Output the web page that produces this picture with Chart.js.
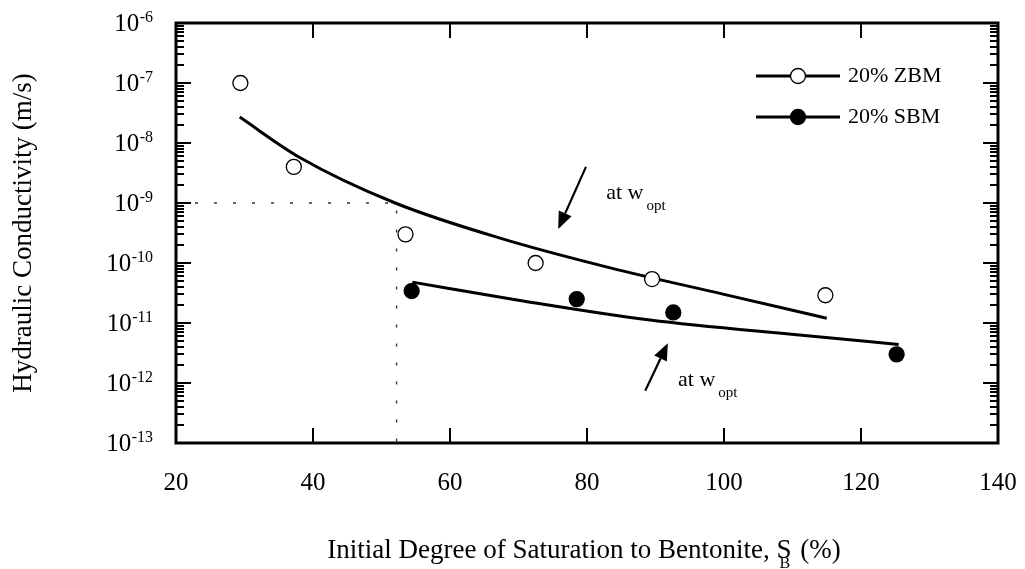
<!DOCTYPE html>
<html><head><meta charset="utf-8">
<script src="https://cdn.jsdelivr.net/npm/chart.js@4/dist/chart.umd.min.js"></script>
<style>html,body{margin:0;padding:0;background:#fff;}canvas{display:block;}</style>
</head><body>
<canvas id="c" width="1025" height="569"></canvas>
<script>
// Measured hydraulic conductivity (m/s) against initial degree of saturation to bentonite (%)
const zbmS = [29.4, 37.2, 53.5, 72.5, 89.5, 114.8];
const zbmK = [1.0e-7, 4.0e-9, 3.0e-10, 1.0e-10, 5.4e-11, 2.9e-11];
const sbmS = [54.4, 78.5, 92.6, 125.2];
const sbmK = [3.4e-11, 2.5e-11, 1.5e-11, 3.0e-12];

// Trend curves through each series
const zbmFitS = [29.3, 38, 52, 67.3, 83.4, 100, 115];
const zbmFitK = [2.7e-8, 5.8e-9, 1.0e-9, 2.6e-10, 8.3e-11, 3.0e-11, 1.2e-11];
const sbmFitS = [54.5, 70, 89.2, 111, 125.5];
const sbmFitK = [4.8e-11, 2.4e-11, 1.12e-11, 6.3e-12, 4.4e-12];

// Dotted guide at k = 1e-9
const guideK = 1e-9;
const guideS = 52.2;

// Axis ticks
const xTicks = [20, 40, 60, 80, 100, 120, 140];
const yExponents = [-6, -7, -8, -9, -10, -11, -12, -13];

// "at w_opt" callouts: arrow tail, arrow tip, label anchor (data units)
const callouts = [
  { tail: [79.85, 4.0e-9], tip: [75.8, 3.7e-10], label: [82.8, 1.17e-9] },
  { tail: [88.5, 7.4e-13], tip: [91.8, 4.6e-12], label: [93.3, 8.9e-13] }
];

const SERIF = '"Liberation Serif", "Times New Roman", serif';
const pairs = (xs, ys) => xs.map((x, i) => ({ x, y: ys[i] }));

const decor = {
  id: 'decor',
  afterDraw(chart) {
    const ctx = chart.ctx;
    const a = chart.chartArea;
    const xs = chart.scales.x, ys = chart.scales.y;
    ctx.save();
    ctx.fillStyle = '#000';
    ctx.strokeStyle = '#000';

    // ticks (inside, on all four sides)
    ctx.lineWidth = 2;
    ctx.beginPath();
    xTicks.forEach(v => {
      const px = Math.round(xs.getPixelForValue(v));
      ctx.moveTo(px, a.bottom); ctx.lineTo(px, a.bottom - 15);
      ctx.moveTo(px, a.top); ctx.lineTo(px, a.top + 15);
    });
    for (let e = -13; e <= -6; e++) {
      const py = Math.round(ys.getPixelForValue(Math.pow(10, e)));
      ctx.moveTo(a.left, py); ctx.lineTo(a.left + 15, py);
      ctx.moveTo(a.right, py); ctx.lineTo(a.right - 15, py);
      if (e < -6) {
        for (let m = 2; m <= 9; m++) {
          const pm = Math.round(ys.getPixelForValue(m * Math.pow(10, e)));
          ctx.moveTo(a.left, pm); ctx.lineTo(a.left + 8, pm);
          ctx.moveTo(a.right, pm); ctx.lineTo(a.right - 8, pm);
        }
      }
    }
    ctx.stroke();

    // frame
    ctx.lineWidth = 3;
    ctx.strokeRect(a.left, a.top, a.right - a.left, a.bottom - a.top);

    // y tick labels: 10 with superscript exponent
    yExponents.forEach(e => {
      const py = ys.getPixelForValue(Math.pow(10, e));
      const sup = String(e);
      ctx.font = '16px ' + SERIF;
      const wSup = ctx.measureText(sup).width;
      const right = a.left - 23;
      ctx.textAlign = 'left';
      ctx.textBaseline = 'alphabetic';
      ctx.fillText(sup, right - wSup, py - 1);
      ctx.font = '25px ' + SERIF;
      ctx.textAlign = 'right';
      ctx.textBaseline = 'middle';
      ctx.fillText('10', right - wSup - 0.5, py + 1);
    });

    // x tick labels
    ctx.font = '25px ' + SERIF;
    ctx.textAlign = 'center';
    ctx.textBaseline = 'middle';
    xTicks.forEach(v => ctx.fillText(String(v), xs.getPixelForValue(v), a.bottom + 40));

    // x title with subscript B under the S
    ctx.font = '27px ' + SERIF;
    ctx.textBaseline = 'alphabetic';
    const t1 = 'Initial Degree of Saturation to Bentonite, S';
    const t2 = ' (%)';
    const w1 = ctx.measureText(t1).width, w2 = ctx.measureText(t2).width;
    const wS = ctx.measureText('S').width;
    const cx = (a.left + a.right) / 2 - 4;
    const x0 = cx - (w1 + w2) / 2;
    ctx.textAlign = 'left';
    ctx.fillText(t1, x0, 558);
    ctx.fillText(t2, x0 + w1 + 2, 558);
    ctx.font = '16px ' + SERIF;
    ctx.textAlign = 'center';
    ctx.fillText('B', x0 + w1 - wS / 2 + 1, 568);

    // y title
    ctx.save();
    ctx.translate(24, (a.top + a.bottom) / 2);
    ctx.rotate(-Math.PI / 2);
    ctx.font = '27px ' + SERIF;
    ctx.textAlign = 'center';
    ctx.textBaseline = 'middle';
    ctx.fillText('Hydraulic Conductivity (m/s)', 0, 0);
    ctx.restore();

    // legend
    const legend = [
      { label: '20% ZBM', fill: '#fff', y: a.top + 53 },
      { label: '20% SBM', fill: '#000', y: a.top + 94 }
    ];
    legend.forEach(item => {
      ctx.lineWidth = 3;
      ctx.beginPath();
      ctx.moveTo(756, item.y); ctx.lineTo(840, item.y);
      ctx.stroke();
      ctx.beginPath();
      ctx.arc(798, item.y, 7.5, 0, Math.PI * 2);
      ctx.fillStyle = item.fill;
      ctx.fill();
      ctx.lineWidth = 1.3;
      ctx.stroke();
      ctx.fillStyle = '#000';
      ctx.font = '22px ' + SERIF;
      ctx.textAlign = 'left';
      ctx.textBaseline = 'middle';
      ctx.fillText(item.label, 848, item.y);
    });

    // callout arrows and labels
    callouts.forEach(c => {
      const tx = xs.getPixelForValue(c.tail[0]), ty = ys.getPixelForValue(c.tail[1]);
      const hx = xs.getPixelForValue(c.tip[0]), hy = ys.getPixelForValue(c.tip[1]);
      const ang = Math.atan2(hy - ty, hx - tx);
      const headLen = 17, headHalf = 7;
      const bx = hx - headLen * Math.cos(ang), by = hy - headLen * Math.sin(ang);
      ctx.lineWidth = 2.2;
      ctx.beginPath();
      ctx.moveTo(tx, ty); ctx.lineTo(bx, by);
      ctx.stroke();
      ctx.beginPath();
      ctx.moveTo(hx, hy);
      ctx.lineTo(bx + headHalf * Math.sin(ang), by - headHalf * Math.cos(ang));
      ctx.lineTo(bx - headHalf * Math.sin(ang), by + headHalf * Math.cos(ang));
      ctx.closePath();
      ctx.fill();
      const lx = xs.getPixelForValue(c.label[0]), ly = ys.getPixelForValue(c.label[1]);
      ctx.font = '22px ' + SERIF;
      ctx.textAlign = 'left';
      ctx.textBaseline = 'alphabetic';
      const main = 'at w';
      ctx.fillText(main, lx, ly);
      const wm = ctx.measureText(main).width;
      ctx.font = '15px ' + SERIF;
      ctx.fillText('opt', lx + wm + 3, ly + 11);
    });
    ctx.restore();
  }
};

new Chart(document.getElementById('c'), {
  type: 'scatter',
  data: {
    datasets: [
      { label: '20% ZBM', data: pairs(zbmS, zbmK), showLine: false, pointRadius: 7.5,
        pointBackgroundColor: '#fff', pointBorderColor: '#000', pointBorderWidth: 1.3, order: 0 },
      { label: '20% SBM', data: pairs(sbmS, sbmK), showLine: false, pointRadius: 7.5,
        pointBackgroundColor: '#000', pointBorderColor: '#000', pointBorderWidth: 1.3, order: 0 },
      { label: 'ZBM trend', data: pairs(zbmFitS, zbmFitK), showLine: true, pointRadius: 0,
        borderColor: '#000', borderWidth: 3, cubicInterpolationMode: 'monotone', order: 1 },
      { label: 'SBM trend', data: pairs(sbmFitS, sbmFitK), showLine: true, pointRadius: 0,
        borderColor: '#000', borderWidth: 3, cubicInterpolationMode: 'monotone', order: 1 },
      { label: 'guide', data: [{ x: xTicks[0], y: guideK }, { x: guideS, y: guideK }, { x: guideS, y: Math.pow(10, yExponents[yExponents.length - 1]) }],
        showLine: true, pointRadius: 0, borderColor: '#333', borderWidth: 1.4, borderDash: [3, 16], order: 2 }
    ]
  },
  options: {
    responsive: false,
    animation: false,
    devicePixelRatio: 1,
    layout: { padding: { left: 176, right: 27, top: 23, bottom: 126 } },
    plugins: { legend: { display: false }, tooltip: { enabled: false } },
    scales: {
      x: { type: 'linear', min: xTicks[0], max: xTicks[xTicks.length - 1], display: false },
      y: { type: 'logarithmic', min: Math.pow(10, yExponents[yExponents.length - 1]), max: Math.pow(10, yExponents[0]), display: false }
    }
  },
  plugins: [decor]
});
</script>
</body></html>
